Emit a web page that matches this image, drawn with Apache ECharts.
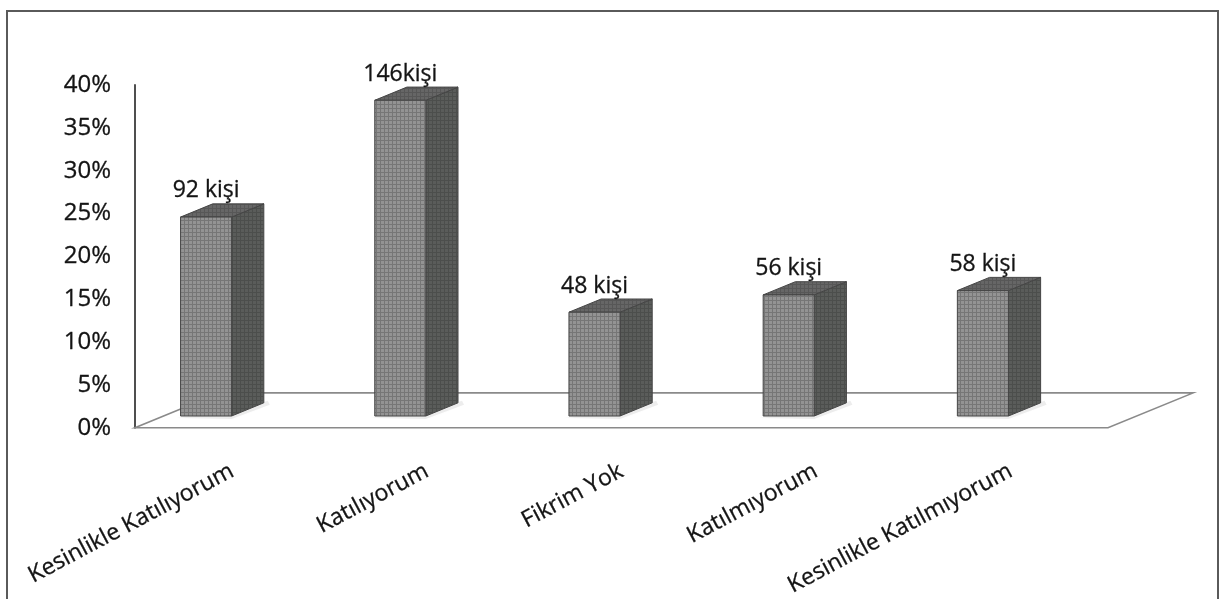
<!DOCTYPE html>
<html>
<head>
<meta charset="utf-8">
<script src="https://cdn.jsdelivr.net/npm/echarts@6/dist/echarts.min.js"></script>
<style>
  html, body { margin: 0; padding: 0; background: #ffffff; }
  #chart { width: 1225px; height: 599px; }
</style>
</head>
<body>
<div id="chart"></div>
<script>
// Survey answers, share of respondents (%) and the head count printed above each column
const categories = ['Kesinlikle Katılıyorum', 'Katılıyorum', 'Fikrim Yok', 'Katılmıyorum', 'Kesinlikle Katılmıyorum'];
const percentValues = [23, 36.5, 12, 14, 14.5];
const countLabels = ['92 kişi', '146kişi', '48 kişi', '56 kişi', '58 kişi'];
const yMin = 0;
const yMax = 40;
const yStep = 5;

const FONT = '"Open Sans", "Noto Sans", sans-serif';
const INK = '#141414';

// Fine cross-hatched fill used on the column faces
function hatch(base, line) {
  const c = document.createElement('canvas');
  c.width = 4; c.height = 4;
  const g = c.getContext('2d');
  g.fillStyle = base; g.fillRect(0, 0, 4, 4);
  g.fillStyle = line;
  g.fillRect(0, 0, 4, 1);
  g.fillRect(0, 0, 1, 4);
  return { image: c, repeat: 'repeat' };
}
const frontFill = hatch('#939393', '#767676');
const sideFill = hatch('#5a5c5a', '#4c4e4c');
const topFill = hatch('#666666', '#575757');
const EDGE = '#454545';

const chart = echarts.init(document.getElementById('chart'), null, { renderer: 'canvas' });

chart.setOption({
  backgroundColor: '#ffffff',
  animation: false,
  graphic: [{
    type: 'rect',
    shape: { x: 7, y: 11, width: 1211, height: 610 },
    style: { fill: 'none', stroke: '#5a5a5a', lineWidth: 2 },
    silent: true
  }],
  grid: [
    // wall axis, floor and category labels
    { left: 135, top: 85, width: 973, height: 343 },
    // columns standing on the floor
    { left: 109, top: 70, width: 971, height: 346 }
  ],
  xAxis: [
    {
      gridIndex: 0, type: 'category', data: categories,
      axisLine: { show: false }, axisTick: { show: false },
      axisLabel: {
        interval: 0, rotate: 28, margin: 42,
        fontSize: 23, fontFamily: FONT, color: INK,
        textBorderColor: INK, textBorderWidth: 0.3
      }
    },
    { gridIndex: 1, type: 'category', data: categories, show: false }
  ],
  yAxis: [
    {
      gridIndex: 0, type: 'value', min: yMin, max: yMax, interval: yStep,
      axisLine: { show: true, lineStyle: { color: '#3c3c3c', width: 1.8 } },
      axisTick: { show: false },
      splitLine: { show: false },
      axisLabel: {
        formatter: '{value}%', margin: 24,
        fontSize: 24, fontFamily: FONT, color: INK,
        textBorderColor: INK, textBorderWidth: 0.3
      }
    },
    { gridIndex: 1, type: 'value', min: yMin, max: yMax, interval: yStep, show: false, splitLine: { show: false } }
  ],
  series: [
    {
      // floor plane in perspective
      type: 'custom',
      xAxisIndex: 0, yAxisIndex: 0,
      z: 1, silent: true,
      data: [[0, 0]],
      renderItem: function (params, api) {
        const cs = params.coordSys;
        const base = api.coord([0, yMin]);
        const yb = base[1];
        const depthX = cs.width * 0.0875;
        const depthY = -depthX * 0.41;
        const xl = cs.x, xr = cs.x + cs.width;
        return {
          type: 'polygon',
          shape: { points: [[xl, yb], [xr, yb], [xr + depthX, yb + depthY], [xl + depthX, yb + depthY]] },
          style: { fill: '#ffffff', stroke: '#8a8a8a', lineWidth: 1.6 }
        };
      }
    },
    {
      // 3D columns
      type: 'custom',
      xAxisIndex: 1, yAxisIndex: 1,
      z: 3,
      data: percentValues.map(function (v, i) { return [i, v]; }),
      encode: { x: 0, y: 1 },
      renderItem: function (params, api) {
        const i = api.value(0);
        const v = api.value(1);
        const base = api.coord([i, yMin]);
        const top = api.coord([i, v]);
        const band = api.size([1, 0])[0];
        const w = band * 0.263;
        const dx = w * 0.63;
        const dy = -dx * 0.41;
        const x1 = base[0] - w / 2, x2 = base[0] + w / 2;
        const yb = base[1], yt = top[1];
        return {
          type: 'group',
          children: [
            {
              // soft floor shading beside the column foot
              type: 'polygon',
              shape: { points: [[x1 - 4, yb + 2], [x2, yb + 3], [x2 + dx + 6, yb + dy + 2], [x2 + dx + 4, yb + dy - 2], [x2, yb - 4]] },
              style: { fill: 'rgba(0,0,0,0.07)', shadowBlur: 10, shadowColor: 'rgba(0,0,0,0.18)' }
            },
            {
              type: 'polygon',
              shape: { points: [[x2, yb], [x2, yt], [x2 + dx, yt + dy], [x2 + dx, yb + dy]] },
              style: { fill: sideFill, stroke: EDGE, lineWidth: 1 }
            },
            {
              type: 'polygon',
              shape: { points: [[x1, yt], [x2, yt], [x2 + dx, yt + dy], [x1 + dx, yt + dy]] },
              style: { fill: topFill, stroke: EDGE, lineWidth: 1 }
            },
            {
              type: 'rect',
              shape: { x: x1, y: yt, width: w, height: yb - yt },
              style: { fill: frontFill, stroke: EDGE, lineWidth: 1 }
            },
            {
              type: 'text',
              style: {
                text: countLabels[i],
                x: base[0], y: yt + dy - 13,
                align: 'center', verticalAlign: 'middle',
                fontSize: 23, fontFamily: FONT, fill: INK,
                stroke: INK, lineWidth: 0.3
              }
            }
          ]
        };
      }
    }
  ]
});
</script>
</body>
</html>
